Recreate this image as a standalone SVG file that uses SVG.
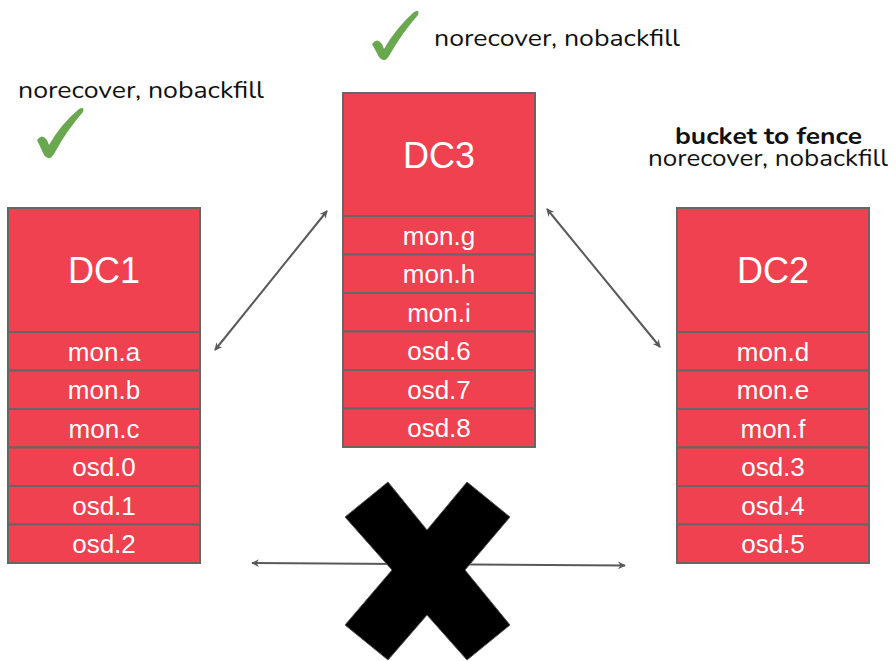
<svg xmlns="http://www.w3.org/2000/svg" width="896" height="661" viewBox="0 0 896 661">
<defs>
<style>
.box{fill:#ef4150;stroke:#666;stroke-width:2}
.hd{font-family:"Liberation Sans",Arial,sans-serif;font-size:36px;fill:#fff;text-anchor:middle}
.rw{font-family:"Liberation Sans",Arial,sans-serif;font-size:26px;fill:#fff;text-anchor:middle}
.note{font-family:"Nunito","Open Sans","Noto Sans",sans-serif;font-size:23px;fill:#111}
.bold{font-weight:bold}
.conn{stroke:#595959;stroke-width:2;fill:none;marker-start:url(#ah);marker-end:url(#ah)}
.chk{fill:#6aa84f}
</style>
<marker id="ah" viewBox="0 0 10 10" refX="9" refY="5" markerWidth="6" markerHeight="6" orient="auto-start-reverse" markerUnits="userSpaceOnUse" overflow="visible">
<path d="M0,0 L10,5 L0,10 L3,5 Z" fill="#595959" transform="scale(1.3) translate(-2,-1.2)"/>
</marker>
</defs>
<rect width="896" height="661" fill="#fff"/>

<g id="connectors">
<line class="conn" x1="215" y1="350" x2="327" y2="211"/>
<line class="conn" x1="547" y1="209" x2="660" y2="347"/>
<line class="conn" x1="252" y1="563" x2="625" y2="565.5"/>
</g>

<g id="dc1">
<rect class="box" x="8" y="208" width="192" height="124"/>
<rect class="box" x="8" y="332" width="192" height="38.5"/>
<rect class="box" x="8" y="370.5" width="192" height="38.5"/>
<rect class="box" x="8" y="409" width="192" height="38.5"/>
<rect class="box" x="8" y="447.5" width="192" height="38.5"/>
<rect class="box" x="8" y="486" width="192" height="38.5"/>
<rect class="box" x="8" y="524.5" width="192" height="38.5"/>
<text class="hd" x="104" y="283">DC1</text>
<text class="rw" x="104" y="360.5">mon.a</text>
<text class="rw" x="104" y="399">mon.b</text>
<text class="rw" x="104" y="437.5">mon.c</text>
<text class="rw" x="104" y="476">osd.0</text>
<text class="rw" x="104" y="514.5">osd.1</text>
<text class="rw" x="104" y="553">osd.2</text>
</g>

<g id="dc3">
<rect class="box" x="343" y="93" width="192" height="123"/>
<rect class="box" x="343" y="216" width="192" height="38.5"/>
<rect class="box" x="343" y="254.5" width="192" height="38.5"/>
<rect class="box" x="343" y="293" width="192" height="38.5"/>
<rect class="box" x="343" y="331.5" width="192" height="38.5"/>
<rect class="box" x="343" y="370" width="192" height="38.5"/>
<rect class="box" x="343" y="408.5" width="192" height="38.5"/>
<text class="hd" x="439" y="168">DC3</text>
<text class="rw" x="439" y="244.5">mon.g</text>
<text class="rw" x="439" y="283">mon.h</text>
<text class="rw" x="439" y="321.5">mon.i</text>
<text class="rw" x="439" y="360">osd.6</text>
<text class="rw" x="439" y="398.5">osd.7</text>
<text class="rw" x="439" y="437">osd.8</text>
</g>

<g id="dc2">
<rect class="box" x="677" y="208" width="192" height="124"/>
<rect class="box" x="677" y="332" width="192" height="38.5"/>
<rect class="box" x="677" y="370.5" width="192" height="38.5"/>
<rect class="box" x="677" y="409" width="192" height="38.5"/>
<rect class="box" x="677" y="447.5" width="192" height="38.5"/>
<rect class="box" x="677" y="486" width="192" height="38.5"/>
<rect class="box" x="677" y="524.5" width="192" height="38.5"/>
<text class="hd" x="773" y="283">DC2</text>
<text class="rw" x="773" y="360.5">mon.d</text>
<text class="rw" x="773" y="399">mon.e</text>
<text class="rw" x="773" y="437.5">mon.f</text>
<text class="rw" x="773" y="476">osd.3</text>
<text class="rw" x="773" y="514.5">osd.4</text>
<text class="rw" x="773" y="553">osd.5</text>
</g>

<g id="cross">
<polygon points="388,482 427,530 467,482 510,517 465,570 510,625 467,660 427,615 388,660 345,625 392,570 345,517" fill="#000" stroke="#595959" stroke-width="1"/>
</g>

<g id="note-dc1">
<text class="note" x="18" y="98" textLength="246" lengthAdjust="spacingAndGlyphs">norecover, nobackfill</text>
<path class="chk" d="M37,140 Q42,133 47,140 L49,145 Q61,124 79,109 Q85,106 83,112 Q67,130 54,154 Q49,162 44,155 Z"/>
</g>

<g id="note-dc3">
<text class="note" x="434" y="46" textLength="246" lengthAdjust="spacingAndGlyphs">norecover, nobackfill</text>
<path class="chk" d="M372,44 Q377,37 382,44 L384,49 Q396,28 414,12 Q420,9 418,15 Q402,33 389,56 Q384,64 379,57 Z"/>
</g>

<g id="note-dc2">
<text class="note bold" x="675" y="144" textLength="187" lengthAdjust="spacingAndGlyphs">bucket to fence</text>
<text class="note" x="648" y="166" textLength="240" lengthAdjust="spacingAndGlyphs">norecover, nobackfill</text>
</g>
</svg>
